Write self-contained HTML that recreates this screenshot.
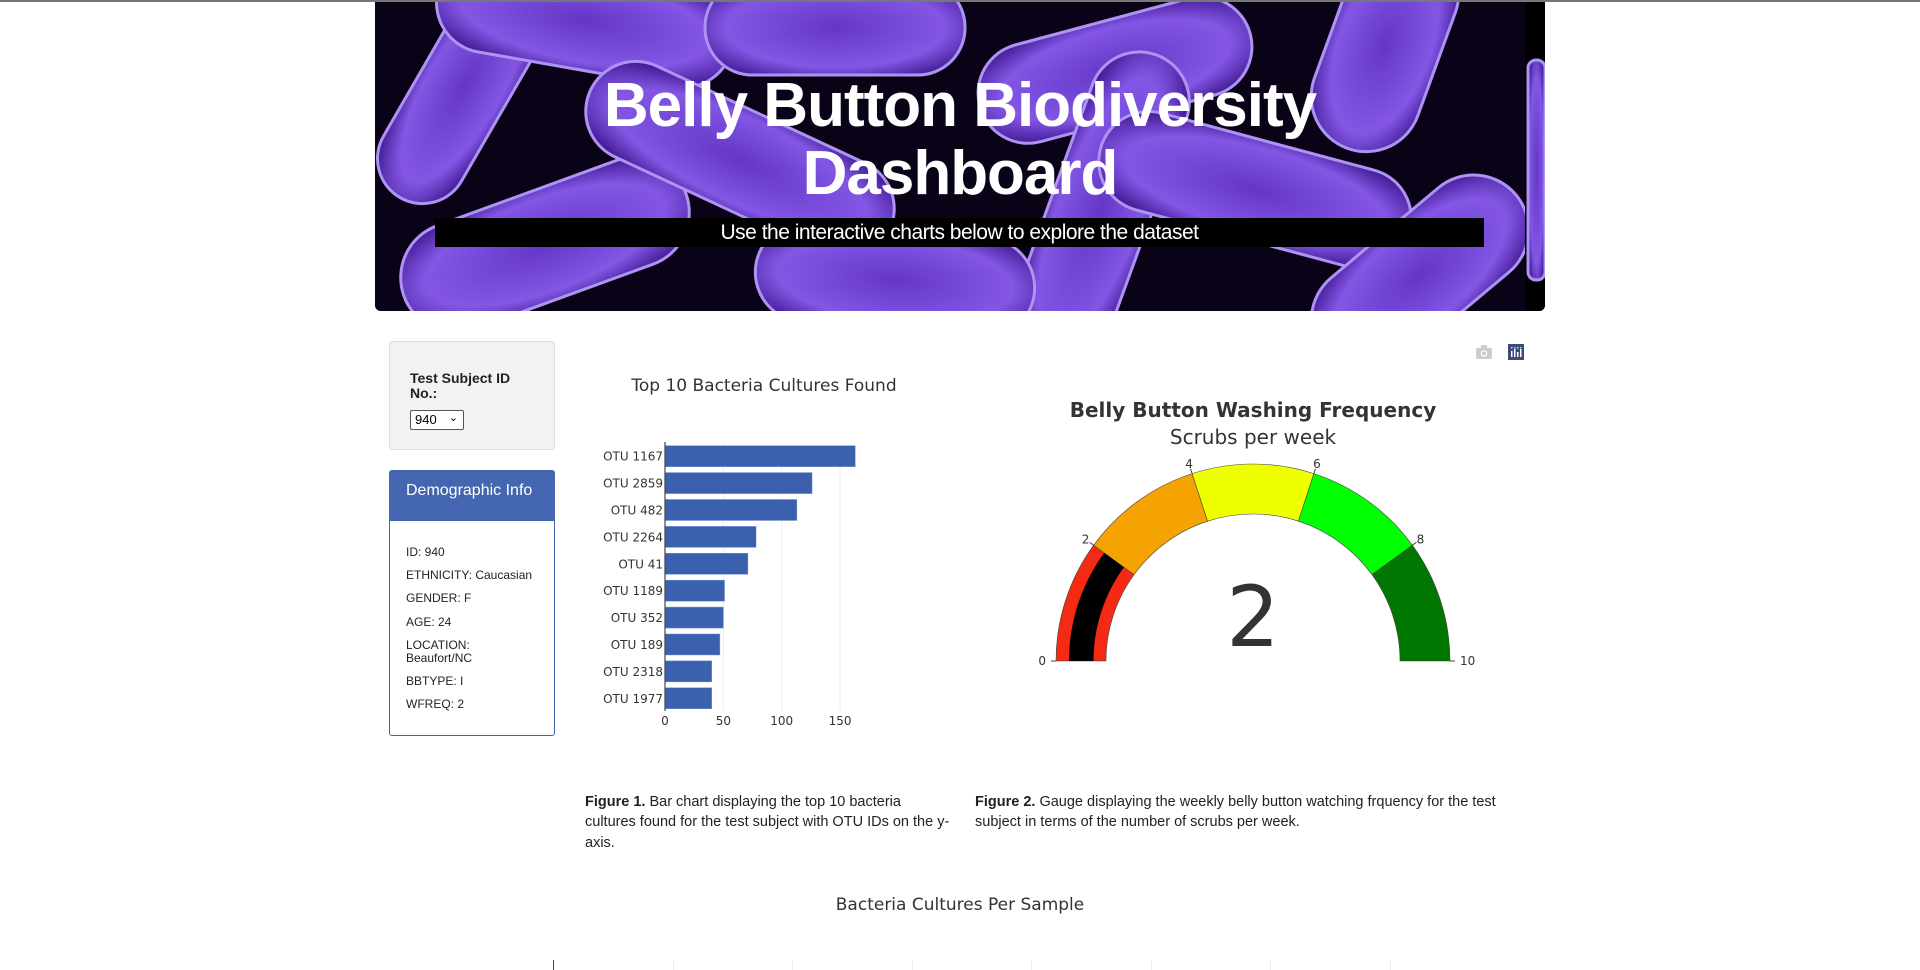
<!DOCTYPE html>
<html><head><meta charset="utf-8">
<style>
*{box-sizing:border-box}
body{margin:0;width:1920px;height:970px;overflow:hidden;background:#fff;font-family:"Liberation Sans",sans-serif;position:relative}
.abs{position:absolute}
#hdr{left:375px;top:0;width:1170px;height:311px;border-radius:0 0 6px 6px;overflow:hidden;background:#000}
#hdr h1{position:absolute;left:0;width:1170px;top:72px;margin:0;text-align:center;color:#fff;font-size:62px;line-height:68px;font-weight:bold;letter-spacing:-1px}
#sub{position:absolute;left:60px;top:218px;width:1049px;height:29px;background:#000;color:#fff;text-align:center;font-size:21px;line-height:29px;letter-spacing:-0.5px}
.well{left:389px;top:341px;width:166px;height:109px;background:#f2f2f2;border:1px solid #ddd;border-radius:3px}
.well .lbl{position:absolute;left:20px;top:29px;font-size:14px;line-height:15px;color:#222;font-weight:bold}
.sel{position:absolute;left:20px;top:68px;width:54px;height:20px;border:1px solid #555;border-radius:2px;background:#fff;font-size:13px;line-height:18px;padding-left:4px}
.panel{left:389px;top:470px;width:166px;height:266px;border:1px solid #4466b0;border-radius:3px}
.panel .ph{height:50px;background:#4466b0;color:#fff;font-size:16px;line-height:40px;padding-left:16px}
.panel .it{position:absolute;left:16px;font-size:12px;color:#222;line-height:13px}
.cap{font-size:14.5px;line-height:20.3px;color:#222}
</style></head><body>
<div class="abs" style="left:0;top:0;width:1920px;height:2px;background:#777;z-index:5"></div>
<div id="hdr" class="abs">
<svg width="1170" height="311" style="position:absolute;left:0;top:0">
<defs><radialGradient id="g" cx="50%" cy="50%" r="60%"><stop offset="0" stop-color="#6a3ad0"/><stop offset="0.7" stop-color="#8a5cf0"/><stop offset="1" stop-color="#4a1fa0"/></radialGradient></defs>
<rect width="1170" height="311" fill="#0a0318"/>
<g fill="url(#g)" stroke="#b79cff" stroke-width="3" opacity="0.95">
<rect x="-40" y="40" width="260" height="90" rx="45" transform="rotate(-60 90 85)"/>
<rect x="60" y="-30" width="300" height="100" rx="50" transform="rotate(10 210 20)"/>
<rect x="330" y="-20" width="260" height="95" rx="47"/>
<rect x="600" y="20" width="280" height="100" rx="50" transform="rotate(-15 740 70)"/>
<rect x="900" y="-10" width="220" height="110" rx="55" transform="rotate(-70 1010 45)"/>
<rect x="20" y="190" width="300" height="110" rx="55" transform="rotate(-20 170 245)"/>
<rect x="200" y="110" width="330" height="100" rx="50" transform="rotate(25 365 160)"/>
<rect x="560" y="160" width="330" height="100" rx="50" transform="rotate(-70 725 210)"/>
<rect x="720" y="140" width="320" height="100" rx="50" transform="rotate(15 880 190)"/>
<rect x="920" y="220" width="250" height="110" rx="55" transform="rotate(-40 1045 275)"/>
<rect x="380" y="230" width="280" height="100" rx="50" transform="rotate(5 520 280)"/>
<rect x="1150" y="0" width="20" height="311" fill="#000" stroke="none"/>
<rect x="1153" y="60" width="17" height="220" rx="8"/>
</g>
</svg>
<h1>Belly Button Biodiversity<br>Dashboard</h1>
<div id="sub">Use the interactive charts below to explore the dataset</div>
</div>

<div class="abs well">
<div class="lbl">Test Subject ID<br>No.:</div>
<div class="sel">940 <span style="position:absolute;right:5px;top:-2px;font-size:11px">&#8964;</span></div>
</div>

<div class="abs panel">
<div class="ph">Demographic Info</div>
<div class="it" style="top:75px">ID: 940</div>
<div class="it" style="top:98px">ETHNICITY: Caucasian</div>
<div class="it" style="top:121px">GENDER: F</div>
<div class="it" style="top:145px">AGE: 24</div>
<div class="it" style="top:168px">LOCATION:<br>Beaufort/NC</div>
<div class="it" style="top:204px">BBTYPE: I</div>
<div class="it" style="top:227px">WFREQ: 2</div>
</div>

<svg id="bar" class="abs" style="left:0;top:2px" width="1920" height="960">
<text x="764" y="389" text-anchor="middle" font-family="DejaVu Sans,sans-serif" font-size="17" fill="#333">Top 10 Bacteria Cultures Found</text>
<g id="barg"></g>
</svg>

<svg id="gauge" class="abs" style="left:0;top:1px" width="1920" height="960">
<text x="1253" y="416" text-anchor="middle" font-family="DejaVu Sans,sans-serif" font-weight="bold" font-size="20" fill="#333">Belly Button Washing Frequency</text>
<text x="1253" y="443" text-anchor="middle" font-family="DejaVu Sans,sans-serif" font-size="20" fill="#333">Scrubs per week</text>
<g id="gg"></g>
</svg>

<div class="abs" style="left:1476px;top:345px;width:16px;height:14px">
<svg width="16" height="14"><rect x="0" y="3" width="16" height="11" rx="2" fill="#ccc"/><rect x="5" y="0" width="6" height="4" fill="#ccc"/><circle cx="8" cy="8.5" r="3.3" fill="#fff"/><circle cx="8" cy="8.5" r="2" fill="#ccc"/></svg></div>
<div class="abs" style="left:1508px;top:344px;width:16px;height:16px;background:#3f4a78">
<svg width="16" height="16"><g fill="#fff"><rect x="3" y="7" width="1.5" height="6"/><rect x="6" y="5" width="1.5" height="8"/><rect x="9" y="8" width="1.5" height="5"/><rect x="12" y="5" width="1.5" height="8"/></g><g fill="#8fd"><rect x="3" y="3" width="1.5" height="1.5"/><rect x="6" y="3" width="1.5" height="1.5"/><rect x="9" y="3" width="1.5" height="1.5"/><rect x="12" y="3" width="1.5" height="1.5"/></g></svg></div>

<div class="abs cap" style="left:585px;top:792px;width:365px"><b>Figure 1.</b> Bar chart displaying the top 10 bacteria cultures found for the test subject with OTU IDs on the y-axis.</div>
<div class="abs cap" style="left:975px;top:792px;width:545px"><b>Figure 2.</b> Gauge displaying the weekly belly button watching frquency for the test subject in terms of the number of scrubs per week.</div>

<div class="abs" style="left:0;width:1920px;top:895px;text-align:center;font-family:'DejaVu Sans',sans-serif;font-size:17px;color:#333">Bacteria Cultures Per Sample</div>
<svg class="abs" style="left:0;top:955px" width="1920" height="15">
<line x1="553.5" y1="5" x2="553.5" y2="15" stroke="#444"/>
<g stroke="#eee"><line x1="673.5" y1="5" x2="673.5" y2="15"/><line x1="792.5" y1="5" x2="792.5" y2="15"/><line x1="912.5" y1="5" x2="912.5" y2="15"/><line x1="1031.5" y1="5" x2="1031.5" y2="15"/><line x1="1151.5" y1="5" x2="1151.5" y2="15"/><line x1="1270.5" y1="5" x2="1270.5" y2="15"/><line x1="1390.5" y1="5" x2="1390.5" y2="15"/></g>
</svg>

<script>
const otuLabels=["OTU 1167","OTU 2859","OTU 482","OTU 2264","OTU 41","OTU 1189","OTU 352","OTU 189","OTU 2318","OTU 1977"];
const sampleValues=[163,126,113,78,71,51,50,47,40,40];
const xTicks=[0,50,100,150];
const gaugeValue=2;
const gaugeSteps=[0,2,4,6,8,10];
const gaugeColors=["#f52a14","#f4a300","#f0ff00","#00ff00","#007700"];
const gaugeTicks=[0,2,4,6,8,10];

const NS="http://www.w3.org/2000/svg";
function mk(tag,attrs,parent){const e=document.createElementNS(NS,tag);for(const k in attrs)e.setAttribute(k,attrs[k]);parent.appendChild(e);return e;}
// bar chart
const bg=document.getElementById('barg');
const X0=665,PX=1.167,TOP=440,BOT=709;
const xs=v=>X0+v*PX;
const band=(BOT-TOP)/otuLabels.length;
xTicks.forEach(t=>{
  if(t>0){const l=mk('line',{x1:xs(t),x2:xs(t),y1:TOP,y2:BOT,stroke:'#eee'},bg);
  
  }
  const tx=mk('text',{x:xs(t),y:723,'text-anchor':'middle','font-family':'DejaVu Sans,sans-serif','font-size':12,fill:'#333'},bg);tx.textContent=t;
  
  
});
otuLabels.forEach((lab,i)=>{
  const y=TOP+band*i+band*0.1+1;
  const r=mk('rect',{x:X0,y:y,width:xs(sampleValues[i])-X0,height:band*0.78,fill:'#3a60ae',stroke:'#6f8fd0','stroke-width':0.5},bg);
  
  
  const t=mk('text',{x:X0-2,y:y+band*0.39+4.5,'text-anchor':'end','font-family':'DejaVu Sans,sans-serif','font-size':12,fill:'#333'},bg);t.textContent=lab;
  
  
});
const ax=mk('line',{x1:X0,x2:X0,y1:TOP,y2:BOT,stroke:'#444','stroke-width':1.2},bg);


// gauge
const gg=document.getElementById('gg');
const CX=1253,CY=660,RO=197,RI=147,MAX=10;
const ang=v=>Math.PI*(1-v/MAX);
const pt=(v,r)=>[CX+r*Math.cos(ang(v)),CY-r*Math.sin(ang(v))];
function arc(a,b,ro,ri){const p1=pt(a,ro),p2=pt(b,ro),p3=pt(b,ri),p4=pt(a,ri);
 return `M${p1} A${ro},${ro} 0 0 1 ${p2} L${p3} A${ri},${ri} 0 0 0 ${p4} Z`;}
gaugeColors.forEach((c,i)=>{
  const p=mk('path',{d:arc(gaugeSteps[i],gaugeSteps[i+1],RO,RI),fill:c,stroke:'#444','stroke-width':0.6},gg);
  
  
});
const vb=mk('path',{d:arc(0,gaugeValue,184,159.5),fill:'#000'},gg);


gaugeTicks.forEach(t=>{
  const a=pt(t,RO),b=pt(t,RO+5),c=pt(t,RO+10);
  mk('line',{x1:a[0],y1:a[1],x2:b[0],y2:b[1],stroke:'#444'},gg);
  const tx=mk('text',{x:c[0],y:c[1]+4,'text-anchor':t==0?'end':(t==10?'start':'middle'),'font-family':'DejaVu Sans,sans-serif','font-size':12,fill:'#333'},gg);tx.textContent=t;
  
  
});
const num=mk('text',{x:CX,y:645,'text-anchor':'middle','font-family':'DejaVu Sans,sans-serif','font-size':84,fill:'#333'},gg);num.textContent=gaugeValue;


</script>
</body></html>
